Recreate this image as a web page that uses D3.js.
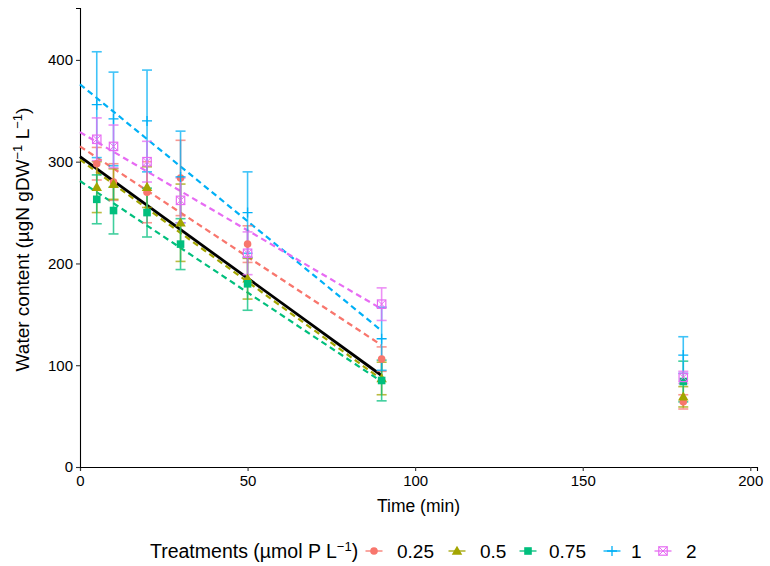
<!DOCTYPE html>
<html>
<head>
<meta charset="utf-8">
<script src="https://cdn.jsdelivr.net/npm/d3@7"></script>
<style>
  body { margin: 0; background: #fff; }
  svg { display: block; font-family: "Liberation Sans", Arial, Helvetica, sans-serif; }
</style>
</head>
<body>
<svg id="chart" width="770" height="566"></svg>
<script>
// Sampling times (min)
const times = [5, 10, 20, 30, 50, 90, 180];
const treatments = ["0.25", "0.5", "0.75", "1", "2"];
const colors = ["#F8766D", "#A3A500", "#00BF7D", "#00B0F6", "#E76BF3"];

// Mean water content per treatment at each time
const mean025 = [298, 280, 270, 284, 219, 106, 64];
const mean05  = [275, 278, 275, 240, 185, 87, 69];
const mean075 = [263, 252, 250, 219, 180, 85, 84];
const mean1   = [356, 342, 340, 285, 250, 126, 110];
const mean2   = [322, 315, 300, 262, 210, 160, 88];

// Standard deviations
const sd025 = [16, 18, 30, 37, 18, 12, 7];
const sd05  = [25, 15, 20, 38, 20, 16, 10];
const sd075 = [24, 23, 24, 25, 26, 20, 20];
const sd1   = [52, 46, 50, 45, 40, 31, 18];
const sd2   = [21, 21, 20, 22, 21, 16, 6];

// Linear fits over 0–90 min (intercept, slope) per treatment, and pooled
const fitIntercept = [315, 302, 281, 376, 329];
const fitSlope     = [-2.17, -2.40, -2.19, -2.69, -1.93];
const pooledIntercept = 305;
const pooledSlope = -2.39;
const fitRange = [0, 90];

const xTicks = [0, 50, 100, 150, 200];
const yTicks = [0, 100, 200, 300, 400];

const means = [mean025, mean05, mean075, mean1, mean2];
const sds = [sd025, sd05, sd075, sd1, sd2];

const svg = d3.select("#chart");
const margin = { left: 80, right: 13, top: 8, bottom: 99 };
const W = 770, H = 566;

const x = d3.scaleLinear().domain([0, 202]).range([margin.left, W - margin.right]);
const y = d3.scaleLinear().domain([0, 451]).range([H - margin.bottom, margin.top]);

// Axes
const xAxis = svg.append("g")
  .attr("transform", `translate(0,${y(0)})`)
  .call(d3.axisBottom(x).tickValues(xTicks).tickSize(4).tickPadding(4));
const yAxis = svg.append("g")
  .attr("transform", `translate(${x(0)},0)`)
  .call(d3.axisLeft(y).tickValues(yTicks).tickSize(4).tickPadding(3));
[xAxis, yAxis].forEach(g => {
  g.select(".domain").attr("stroke", "#000").attr("stroke-width", 1.1);
  g.selectAll(".tick line").attr("stroke", "#333").attr("stroke-width", 1.1);
  g.selectAll(".tick text").attr("fill", "#000").style("font-size", "15px")
    .style("font-family", '"Liberation Sans", Arial, sans-serif');
});

// Axis titles
svg.append("text")
  .attr("x", (x(0) + x(202)) / 2).attr("y", 512)
  .attr("text-anchor", "middle").style("font-size", "17.5px")
  .text("Time (min)");

const yt = svg.append("text")
  .attr("transform", `translate(29,${(y(0) + y(451)) / 2 + 2}) rotate(-90)`)
  .attr("text-anchor", "middle").style("font-size", "19px");
yt.append("tspan").text("Water content (µgN gDW");
yt.append("tspan").attr("dy", -7).style("font-size", "13px").text("−1");
yt.append("tspan").attr("dy", 7).text(" L");
yt.append("tspan").attr("dy", -7).style("font-size", "13px").text("−1");
yt.append("tspan").attr("dy", 7).text(")");

const plot = svg.append("g");

// Fitted lines
treatments.forEach((t, i) => {
  plot.append("line")
    .attr("x1", x(fitRange[0])).attr("y1", y(fitIntercept[i] + fitSlope[i] * fitRange[0]))
    .attr("x2", x(fitRange[1])).attr("y2", y(fitIntercept[i] + fitSlope[i] * fitRange[1]))
    .attr("stroke", colors[i]).attr("stroke-width", 2.2)
    .attr("stroke-dasharray", "6,4");
});
plot.append("line")
  .attr("x1", x(fitRange[0])).attr("y1", y(pooledIntercept + pooledSlope * fitRange[0]))
  .attr("x2", x(fitRange[1])).attr("y2", y(pooledIntercept + pooledSlope * fitRange[1]))
  .attr("stroke", "#000").attr("stroke-width", 2.8);

// Error bars
const capHalf = 5;
treatments.forEach((t, i) => {
  const g = plot.append("g").attr("stroke", colors[i]).attr("stroke-width", 1.6).attr("opacity", 0.75);
  times.forEach((tm, j) => {
    const cx = x(tm), lo = y(means[i][j] - sds[i][j]), hi = y(means[i][j] + sds[i][j]);
    g.append("line").attr("x1", cx).attr("x2", cx).attr("y1", lo).attr("y2", hi);
    g.append("line").attr("x1", cx - capHalf).attr("x2", cx + capHalf).attr("y1", lo).attr("y2", lo);
    g.append("line").attr("x1", cx - capHalf).attr("x2", cx + capHalf).attr("y1", hi).attr("y2", hi);
  });
});

// Point markers
function drawMarker(g, i, cx, cy) {
  const c = colors[i];
  if (i === 0) {
    g.append("circle").attr("cx", cx).attr("cy", cy).attr("r", 3.8).attr("fill", c);
  } else if (i === 1) {
    g.append("path").attr("transform", `translate(${cx},${cy + 0.8})`)
      .attr("d", d3.symbol(d3.symbolTriangle, 48)()).attr("fill", c);
  } else if (i === 2) {
    g.append("rect").attr("x", cx - 3.8).attr("y", cy - 3.8).attr("width", 7.6).attr("height", 7.6).attr("fill", c);
  } else if (i === 3) {
    g.append("path").attr("d", `M${cx - 5},${cy}H${cx + 5}M${cx},${cy - 5}V${cy + 5}`)
      .attr("stroke", c).attr("stroke-width", 1.3).attr("fill", "none");
  } else {
    const s = 4.2;
    g.append("rect").attr("x", cx - s).attr("y", cy - s).attr("width", 2 * s).attr("height", 2 * s)
      .attr("fill", "none").attr("stroke", c).attr("stroke-width", 1.2);
    g.append("path").attr("d", `M${cx - s},${cy - s}L${cx + s},${cy + s}M${cx - s},${cy + s}L${cx + s},${cy - s}`)
      .attr("stroke", c).attr("stroke-width", 1.0);
  }
}
treatments.forEach((t, i) => {
  const g = plot.append("g");
  times.forEach((tm, j) => drawMarker(g, i, x(tm), y(means[i][j])));
});

// Legend
const legY = 551;
const leg = svg.append("g");
const lt = leg.append("text").attr("x", 150).attr("y", legY + 6.5).style("font-size", "19.5px");
lt.append("tspan").text("Treatments (µmol P L");
lt.append("tspan").attr("dy", -7).style("font-size", "13px").text("−1");
lt.append("tspan").attr("dy", 7).text(")");

const keyCenters = [374, 457, 528, 612, 663];
const labelX = [397, 480, 549, 631, 686];
treatments.forEach((t, i) => {
  const kx = keyCenters[i];
  leg.append("line").attr("x1", kx - 8.5).attr("x2", kx + 8.5).attr("y1", legY).attr("y2", legY)
    .attr("stroke", colors[i]).attr("stroke-width", 1.6).attr("opacity", 0.8);
  drawMarker(leg, i, kx, legY);
  leg.append("text").attr("x", labelX[i]).attr("y", legY + 6.5).style("font-size", "19px").text(t);
});
</script>
</body>
</html>
